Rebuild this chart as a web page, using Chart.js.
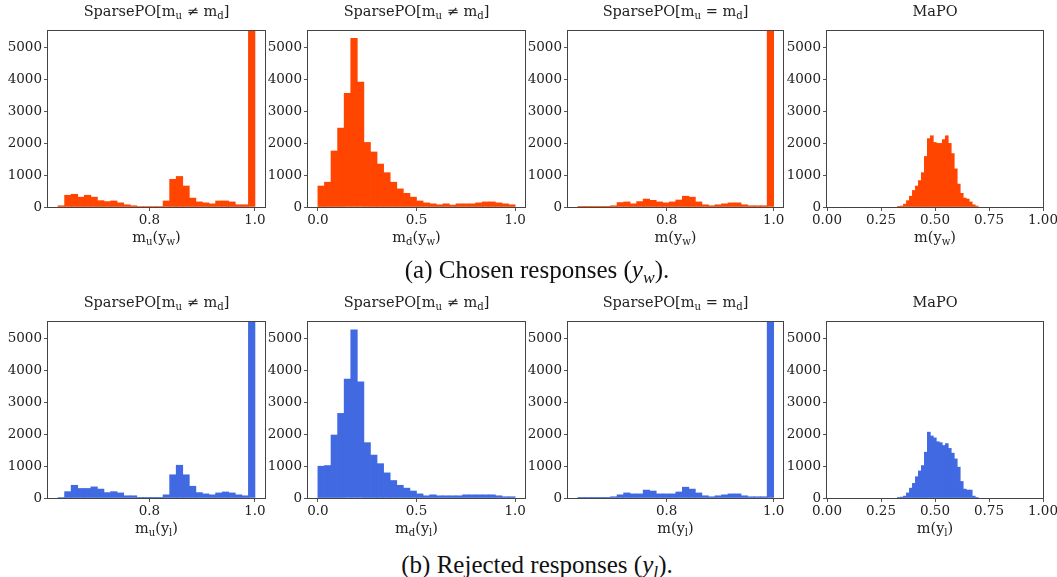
<!DOCTYPE html>
<html lang="en">
<head>
  <meta charset="UTF-8">
  <title>Mask value histograms</title>
  <script src="https://cdn.jsdelivr.net/npm/chart.js"></script>
  <style>
    html, body {
      margin: 0;
      padding: 0;
      background: #fff;
      width: 1057px;
      height: 577px;
      overflow: hidden;
    }
    body {
      position: relative;
      font-family: "DejaVu Serif", serif;
      color: #222;
    }
    canvas { position: absolute; }
    .ttl, .xlab {
      position: absolute;
      text-align: center;
      white-space: nowrap;
    }
    .ttl { font-size: 14.5px; line-height: 18px; }
    .xlab { font-size: 14.5px; line-height: 18px; }
    .cap {
      position: absolute;
      left: 287px;
      width: 500px;
      text-align: center;
      font-family: "Liberation Serif", "Times New Roman", serif;
      font-size: 25px;
      line-height: 26px;
      color: #111;
    }
    sub {
      font-size: 0.7em;
      vertical-align: -0.3em;
      line-height: 0;
    }
  </style>
</head>
<body>
  <div id="figure"></div>
  <div class="cap" style="top:257px">(a) Chosen responses (<i>y<sub>w</sub></i>).</div>
  <div class="cap" style="top:552px">(b) Rejected responses (<i>y<sub>l</sub></i>).</div>

  <script>
    // histogram counts, 30 bins each (MaPO: 27 bins)
    const chosenMuCounts = [40, 370, 400, 310, 370, 310, 200, 170, 190, 130, 70, 40, 15, 15, 15, 15,
      190, 870, 960, 660, 280, 160, 130, 100, 190, 190, 160, 70, 70, 21800];
    const chosenMdCounts = [660, 780, 1760, 2480, 3570, 5300, 3930, 2030, 1730, 1350, 1080, 780, 570, 430,
      310, 190, 130, 100, 70, 100, 60, 100, 100, 100, 130, 160, 160, 130, 100, 70];
    const chosenSharedCounts = [5, 5, 5, 5, 10, 40, 140, 160, 100, 170, 250, 210, 160, 130, 160, 220,
      340, 310, 160, 70, 40, 70, 100, 130, 130, 70, 40, 40, 40, 25100];
    const chosenMapoCounts = [10, 30, 90, 200, 340, 520, 660, 830, 1080, 1590, 2150, 2240, 2030, 2000,
      2000, 2120, 2240, 2000, 1680, 1200, 720, 430, 280, 250, 160, 70, 30];

    const rejectedMuCounts = [15, 200, 400, 300, 300, 350, 280, 170, 200, 160, 70, 70, 10, 10, 10, 10,
      100, 730, 1030, 730, 370, 170, 130, 100, 160, 190, 160, 100, 70, 20500];
    const rejectedMdCounts = [1000, 1020, 1980, 2660, 3740, 5290, 3650, 1740, 1350, 1080, 790, 550, 400,
      310, 220, 130, 70, 100, 70, 70, 70, 70, 100, 100, 100, 100, 100, 70, 40, 40];
    const rejectedSharedCounts = [5, 5, 5, 5, 10, 40, 100, 160, 130, 130, 250, 220, 130, 130, 130, 190,
      340, 280, 160, 70, 40, 70, 100, 130, 130, 70, 40, 40, 40, 23700];
    const rejectedMapoCounts = [10, 30, 60, 160, 310, 460, 670, 850, 1020, 1440, 2070, 1950, 1890, 1770,
      1740, 1650, 1710, 1560, 1410, 1230, 970, 520, 280, 250, 250, 60, 20];

    // bin ranges [lo, hi] and axis limits
    const binRangeMu = [0.627, 1.0];
    const binRangeMd = [0.0, 1.0];
    const binRangeShared = [0.634, 1.0];
    const binRangeMapo = [0.326, 0.700];
    const xLimMu = [0.608, 1.019];
    const xLimMd = [-0.05, 1.05];
    const xLimShared = [0.6155, 1.0174];
    const xLimMapo = [0.0, 1.0];

    const xTicksMu = [0.8, 1.0];
    const xTicksMd = [0.0, 0.5, 1.0];
    const xTicksMapo = [0.0, 0.25, 0.5, 0.75, 1.0];
    const yTicks = [0, 1000, 2000, 3000, 4000, 5000];
    const yMax = 5530;

    const titles = [
      'SparsePO[m<sub>u</sub> ≠ m<sub>d</sub>]',
      'SparsePO[m<sub>u</sub> ≠ m<sub>d</sub>]',
      'SparsePO[m<sub>u</sub> = m<sub>d</sub>]',
      'MaPO'
    ];
    const chosenLabels = ['m<sub>u</sub>(y<sub>w</sub>)', 'm<sub>d</sub>(y<sub>w</sub>)', 'm(y<sub>w</sub>)', 'm(y<sub>w</sub>)'];
    const rejectedLabels = ['m<sub>u</sub>(y<sub>l</sub>)', 'm<sub>d</sub>(y<sub>l</sub>)', 'm(y<sub>l</sub>)', 'm(y<sub>l</sub>)'];

    const ORANGE = '#ff4500';
    const BLUE = '#4169e1';

    // panel geometry
    const colLeft = [48, 308, 568, 827];
    const colWidth = [217, 217, 215, 216];
    const rowTop = [22, 313];
    const plotH = 185;
    const yAxisW = 46;
    const xAxisH = 24;
    const padRight = 18;

    Chart.defaults.font.family = '"DejaVu Serif", serif';
    Chart.defaults.font.size = 13.5;
    Chart.defaults.color = '#222';

    // matplotlib style box around the plot area
    const framePlugin = {
      id: 'frame',
      afterDatasetsDraw(chart) {
        const { ctx, chartArea: a } = chart;
        ctx.save();
        ctx.strokeStyle = '#444';
        ctx.lineWidth = 1;
        const l = Math.round(a.left) - 0.5, t = Math.round(a.top) - 0.5;
        const r = Math.round(a.right) + 0.5, b = Math.round(a.bottom) + 0.5;
        ctx.strokeRect(l, t, r - l, b - t);
        ctx.restore();
      }
    };

    const fig = document.getElementById('figure');

    function addText(cls, html, left, top, width) {
      const d = document.createElement('div');
      d.className = cls;
      d.innerHTML = html;
      d.style.left = left + 'px';
      d.style.top = top + 'px';
      d.style.width = width + 'px';
      fig.appendChild(d);
    }

    function makePanel(row, col, counts, range, xLim, xTicks, decimals, color, title, xLabel) {
      const left = colLeft[col], w = colWidth[col], top = rowTop[row];
      const canvas = document.createElement('canvas');
      canvas.width = yAxisW + w + padRight;
      canvas.height = 1 + plotH + xAxisH;
      canvas.style.left = (left - yAxisW) + 'px';
      canvas.style.top = (top - 1) + 'px';
      fig.appendChild(canvas);

      addText('ttl', title, left, top - 20, w);
      addText('xlab', xLabel, left, top + plotH + 21, w);

      const binW = (range[1] - range[0]) / counts.length;
      const points = counts.map((c, i) => ({ x: range[0] + (i + 0.5) * binW, y: c }));

      new Chart(canvas, {
        type: 'bar',
        data: {
          datasets: [{
            data: points,
            backgroundColor: color,
            borderWidth: 0,
            barPercentage: 1,
            categoryPercentage: 1,
            clip: 0
          }]
        },
        options: {
          responsive: false,
          animation: false,
          layout: { padding: { top: 1, right: padRight, left: 0, bottom: 0 } },
          plugins: { legend: { display: false }, tooltip: { enabled: false } },
          scales: {
            x: {
              type: 'linear',
              min: xLim[0],
              max: xLim[1],
              offset: false,
              afterFit: s => { s.height = xAxisH; },
              afterBuildTicks: s => { s.ticks = xTicks.map(v => ({ value: v })); },
              ticks: {
                callback: v => Number(v).toFixed(decimals),
                maxRotation: 0,
                autoSkip: false,
                padding: 1
              },
              grid: { offset: false, drawOnChartArea: false, tickLength: 4, tickColor: '#555' },
              border: { display: false }
            },
            y: {
              min: 0,
              max: yMax,
              afterFit: s => { s.width = yAxisW; },
              afterBuildTicks: s => { s.ticks = yTicks.map(v => ({ value: v })); },
              ticks: { padding: 2, callback: v => String(v) },
              grid: { drawOnChartArea: false, tickLength: 4, tickColor: '#555' },
              border: { display: false }
            }
          }
        },
        plugins: [framePlugin]
      });
    }

    // (a) chosen responses
    makePanel(0, 0, chosenMuCounts, binRangeMu, xLimMu, xTicksMu, 1, ORANGE, titles[0], chosenLabels[0]);
    makePanel(0, 1, chosenMdCounts, binRangeMd, xLimMd, xTicksMd, 1, ORANGE, titles[1], chosenLabels[1]);
    makePanel(0, 2, chosenSharedCounts, binRangeShared, xLimShared, xTicksMu, 1, ORANGE, titles[2], chosenLabels[2]);
    makePanel(0, 3, chosenMapoCounts, binRangeMapo, xLimMapo, xTicksMapo, 2, ORANGE, titles[3], chosenLabels[3]);

    // (b) rejected responses
    makePanel(1, 0, rejectedMuCounts, binRangeMu, xLimMu, xTicksMu, 1, BLUE, titles[0], rejectedLabels[0]);
    makePanel(1, 1, rejectedMdCounts, binRangeMd, xLimMd, xTicksMd, 1, BLUE, titles[1], rejectedLabels[1]);
    makePanel(1, 2, rejectedSharedCounts, binRangeShared, xLimShared, xTicksMu, 1, BLUE, titles[2], rejectedLabels[2]);
    makePanel(1, 3, rejectedMapoCounts, binRangeMapo, xLimMapo, xTicksMapo, 2, BLUE, titles[3], rejectedLabels[3]);
  </script>
</body>
</html>
